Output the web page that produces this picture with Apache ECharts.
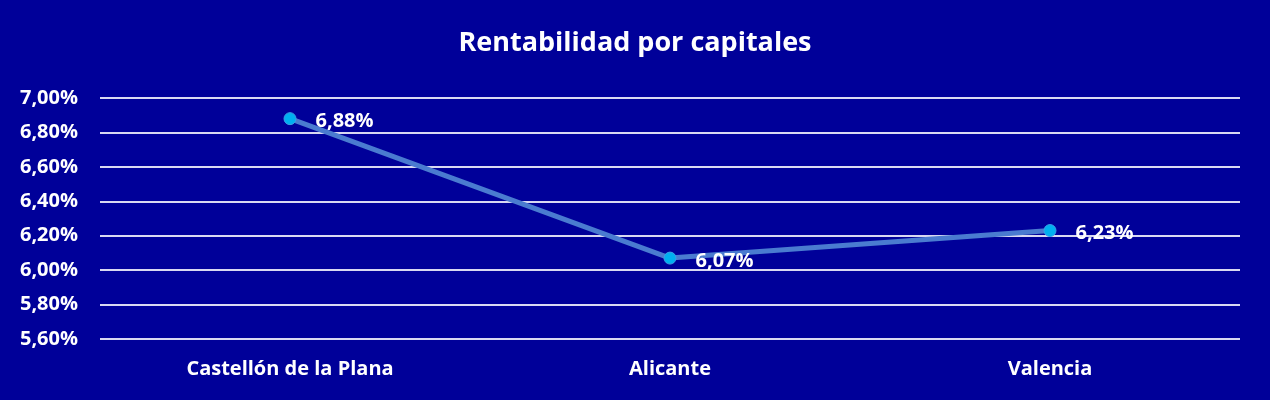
<!DOCTYPE html>
<html><head><meta charset="utf-8">
<script src="https://cdn.jsdelivr.net/npm/echarts@6/dist/echarts.min.js"></script>
<style>html,body{margin:0;padding:0;background:#000099;}#c{width:1270px;height:400px;}</style>
</head><body><div id="c"></div>
<script>
const categories = ["Castellón de la Plana", "Alicante", "Valencia"];
const values = [6.88, 6.07, 6.23];
const title = "Rentabilidad por capitales";
const yMin = 5.6, yMax = 7.0, yStep = 0.2;
const fmt = v => v.toFixed(2).replace('.', ',') + '%';
const chart = echarts.init(document.getElementById('c'));
const font = '"Open Sans", sans-serif';
chart.setOption({
  backgroundColor: '#000099',
  animation: false,
  title: { text: title, left: 'center', top: 25, textStyle: { color: '#ffffff', fontSize: 27, fontWeight: 'bold', fontFamily: font } },
  grid: { left: 100, right: 30, top: 98, bottom: 61 },
  xAxis: { type: 'category', data: categories, axisLine: { show: false }, axisTick: { show: false },
    axisLabel: { color: '#ffffff', fontSize: 20, fontWeight: 'bold', fontFamily: font, margin: 20 } },
  yAxis: { type: 'value', min: yMin, max: yMax, interval: yStep, axisLine: { show: false }, axisTick: { show: false },
    splitLine: { lineStyle: { color: '#D8D8F2', width: 2 } },
    axisLabel: { color: '#ffffff', fontSize: 20, fontWeight: 'bold', fontFamily: font, margin: 22, formatter: v => fmt(v) } },
  series: [{ type: 'line', data: values, symbol: 'circle', symbolSize: 12,
    lineStyle: { color: '#4A7BD0', width: 5 },
    itemStyle: { color: '#00B0F0', borderColor: '#3AA0E8', borderWidth: 1 },
    label: { show: true, position: 'right', distance: 19, offset: [0, 3], color: '#ffffff', fontSize: 20, fontWeight: 'bold', fontFamily: font, formatter: p => fmt(p.value) } }]
});
</script></body></html>
